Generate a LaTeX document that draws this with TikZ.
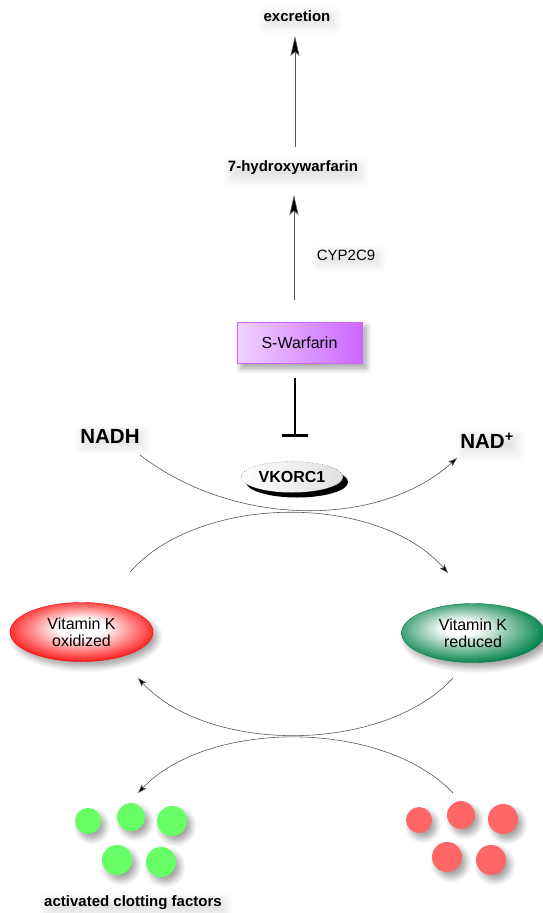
\documentclass[tikz,border=0pt]{standalone}
\usepackage{fontspec}
\setmainfont{Liberation Sans}
\usetikzlibrary{arrows.meta,shadows.blur,shapes.geometric}
\definecolor{warfviolet}{RGB}{204,102,255}
\definecolor{vkred}{RGB}{255,0,0}
\definecolor{vkgreen}{RGB}{0,128,72}
\definecolor{factgreen}{RGB}{102,255,102}
\definecolor{factred}{RGB}{255,102,102}
\pgfdeclareradialshading{redglow}{\pgfpoint{0bp}{4bp}}{color(0bp)=(white); color(8bp)=(white); color(29bp)=(vkred); color(50bp)=(vkred)}
\pgfdeclareradialshading{greenglow}{\pgfpoint{-5bp}{5bp}}{color(0bp)=(white); color(6bp)=(white); color(28bp)=(vkgreen); color(50bp)=(vkgreen)}
\begin{document}
\begin{tikzpicture}[x=1pt,y=-1pt,
  halo/.style={blur shadow={shadow xshift=3pt, shadow yshift=-4pt, shadow blur steps=10, shadow opacity=11, shadow blur radius=8pt}},
  lbl/.style={font=\fontsize{15}{17}\selectfont\bfseries, inner sep=1pt, halo},
  biglbl/.style={font=\fontsize{20.5}{22}\selectfont\bfseries, inner sep=1pt, halo},
  plainlbl/.style={font=\fontsize{15}{17}\selectfont, inner sep=1pt, halo},
  shd/.style={blur shadow={shadow xshift=4pt, shadow yshift=-5pt, shadow blur steps=8, shadow opacity=38, shadow blur radius=6pt}},
  warfbox/.style={draw=warfviolet, line width=0.4pt, minimum width=125, minimum height=41, inner sep=0pt,
     left color=warfviolet!30, middle color=white!92!warfviolet, right color=warfviolet, shd,
     font=\fontsize{16}{18}\selectfont},
  vkbox/.style={ellipse, draw=black!70, dotted, line width=0.5pt, minimum width=102, minimum height=31, inner sep=0pt,
     left color=white, right color=black!12, font=\fontsize{16}{18}\selectfont\bfseries},
  vitk/.style={ellipse, minimum width=143, minimum height=59, inner sep=0pt, align=center,
     font=\fontsize{16}{17}\selectfont, shd},
  fdot/.style={circle, inner sep=0pt, shd},
  vert/.style={draw=black!65, line width=0.6pt, -{Stealth[length=20pt,width=9pt,inset=4pt,fill=black]}},
  conn/.style={draw=black!70, line width=0.55pt, -{Stealth[length=9pt,width=6pt,inset=2pt,fill=black]}},
  inhib/.style={draw=black, line width=2.6pt, -{Bar[width=26pt]}}
]
\useasboundingbox (0,0) rectangle (543,913);

% labels
\node[lbl] (excr) at (297,16) {excretion};
\node[lbl] (hydroxy) at (293,168) {7-hydroxywarfarin};
\node[plainlbl] (cyp) at (346,255) {CYP2C9};
\node[warfbox] (warf) at (299.5,342.5) {S-Warfarin};
\node[biglbl] (nadh) at (110,436) {NADH};
\node[biglbl] (nad) at (487,441) {NAD\textsuperscript{+}};

% VKORC1
\fill[black] (297,482) ellipse [x radius=51, y radius=15.5];
\node[vkbox] (vkor) at (292,477) {VKORC1};

% vitamin K
\node[vitk, shading=redglow, draw=vkred, line width=0.4pt] (vkox) at (81.5,632) {Vitamin K\\oxidized};
\node[vitk, shading=greenglow, draw=vkgreen, line width=0.4pt] (vkred) at (473,633) {Vitamin K\\reduced};

% clotting factors
\node[fdot, fill=factgreen, minimum size=26] (g1) at (88,821) {};
\node[fdot, fill=factgreen, minimum size=28] (g2) at (131,817) {};
\node[fdot, fill=factgreen, minimum size=30] (g3) at (172,821) {};
\node[fdot, fill=factgreen, minimum size=30] (g4) at (117,860) {};
\node[fdot, fill=factgreen, minimum size=30] (g5) at (161,862) {};
\node[fdot, fill=factred, minimum size=26] (r1) at (419,820) {};
\node[fdot, fill=factred, minimum size=28] (r2) at (461,815) {};
\node[fdot, fill=factred, minimum size=30] (r3) at (503,819) {};
\node[fdot, fill=factred, minimum size=30] (r4) at (447,857) {};
\node[fdot, fill=factred, minimum size=30] (r5) at (491,860) {};
\node[lbl] (act) at (133,903) {activated clotting factors};

% connector end points
\coordinate (h1) at (295,147);
\coordinate (h2) at (295,36);
\coordinate (w1) at (294,300);
\coordinate (w2) at (294,195);
\coordinate (i1) at (295,378);
\coordinate (i2) at (295,437);
\coordinate (n1) at (140,455);
\coordinate (n2) at (457,458);
\coordinate (c1) at (130,572);
\coordinate (c2) at (448,573);
\coordinate (d1) at (453,678);
\coordinate (d2) at (138,678);
\coordinate (e1) at (453,793);
\coordinate (e2) at (138,793);

\draw[vert] (h1) -- (h2);
\draw[vert] (w1) -- (w2);
\draw[inhib] (i1) -- (i2);
\draw[conn] (n1) .. controls (235,528) and (380,528) .. (n2);
\draw[conn] (c1) .. controls (200,493) and (378,493) .. (c2);
\draw[conn] (d1) .. controls (383,754) and (208,754) .. (d2);
\draw[conn] (e1) .. controls (383,719) and (208,719) .. (e2);
\end{tikzpicture}
\end{document}
